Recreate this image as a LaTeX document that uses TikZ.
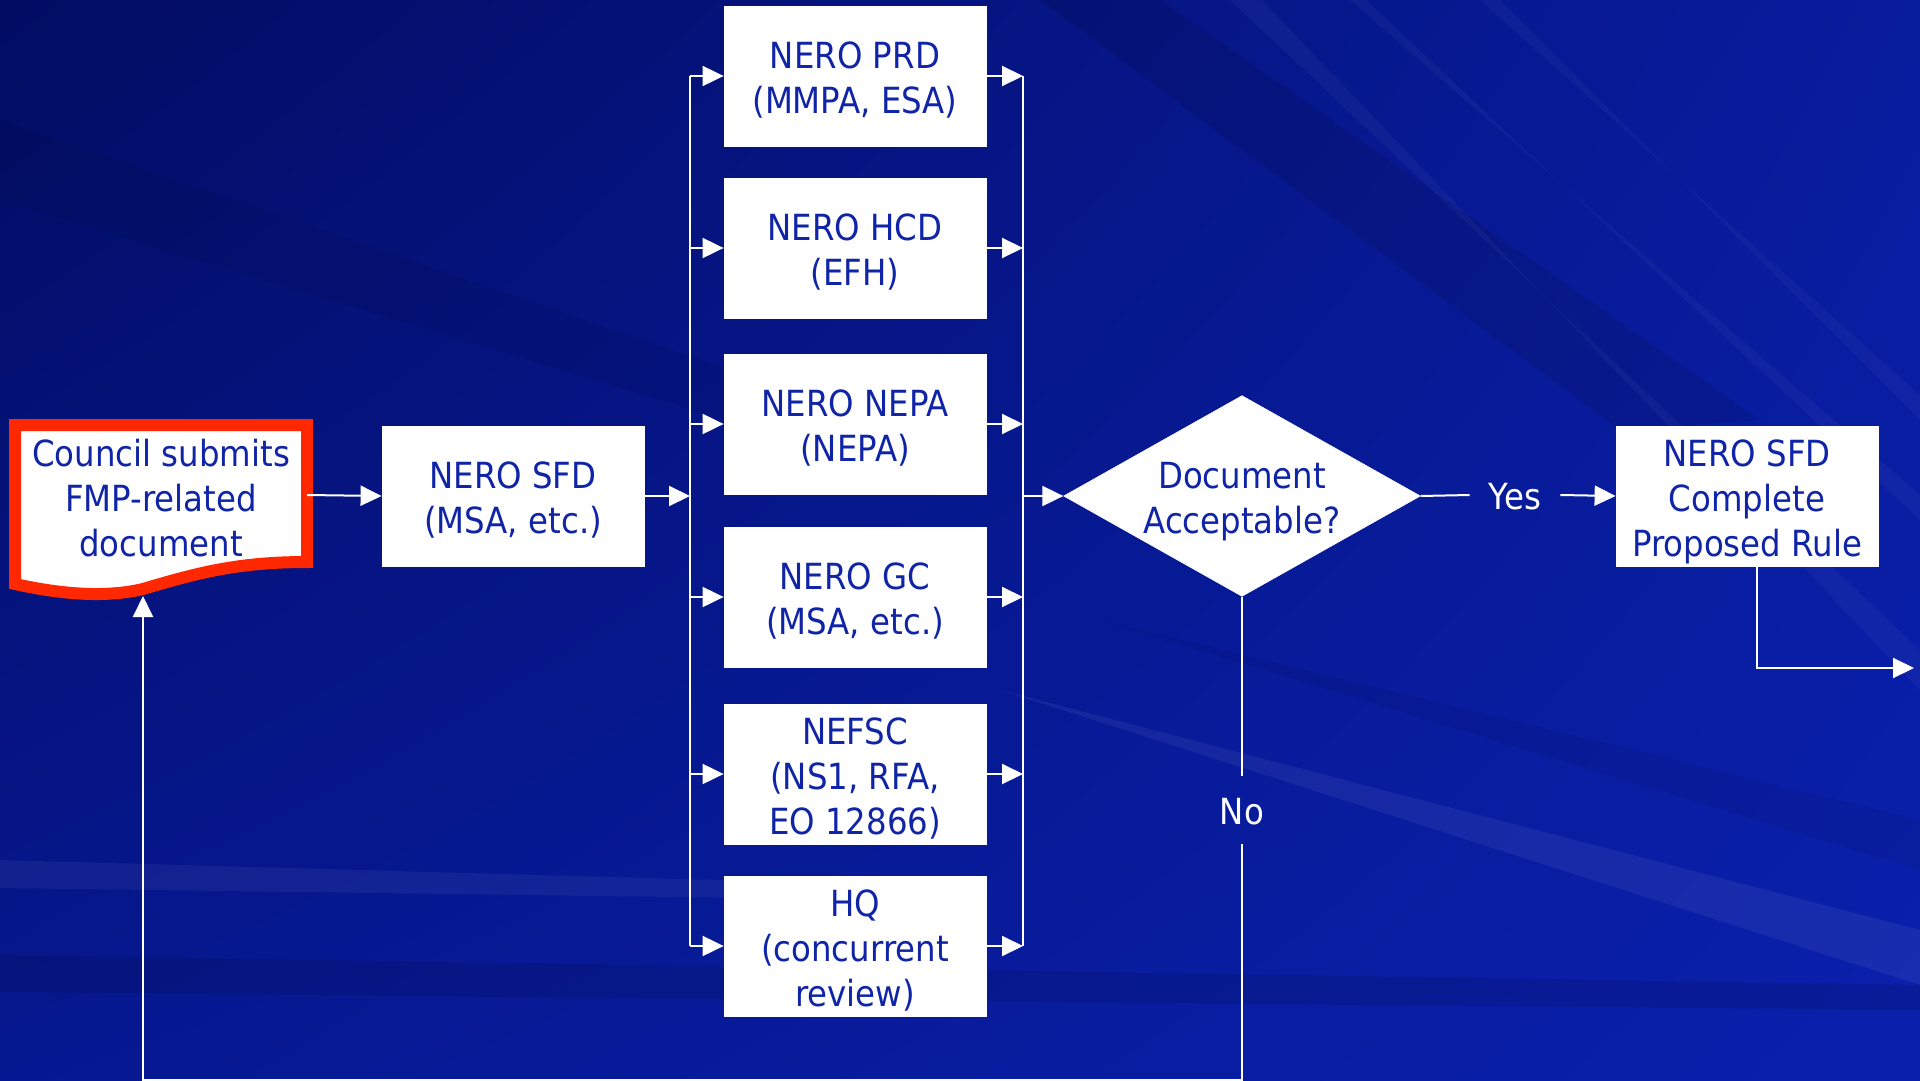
\documentclass[tikz,border=0pt]{standalone}
\usepackage{fontspec}
\setmainfont{DejaVu Sans}[FakeStretch=0.9]
\usetikzlibrary{arrows.meta,shapes.geometric,shadings}
\definecolor{txtblue}{RGB}{16,36,168}
\definecolor{bgUL}{RGB}{2,12,98}
\definecolor{bgUR}{RGB}{8,28,158}
\definecolor{bgLL}{RGB}{6,24,145}
\definecolor{bgLR}{RGB}{10,32,172}
\definecolor{docred}{RGB}{255,40,0}
\newcommand\btxt[1]{\raisebox{-6pt}[\height][\depth]{\begin{tabular}{@{}c@{}}#1\end{tabular}}}
\newcommand\ltxt[1]{\raisebox{-2pt}[\height][\depth]{#1}}
\begin{document}
\begin{tikzpicture}[x=1pt,y=-1pt,
  txt/.style={font=\fontsize{36}{45}\selectfont},
  box/.style={txt, rectangle, fill=white, draw=white, line width=0.8pt,
    minimum width=262pt, minimum height=140pt, inner sep=0pt,
    align=center, text=txtblue},
  conn/.style={white, line width=2pt},
  arr/.style={conn, -{Triangle[length=21pt,width=20pt]}},
  lbl/.style={txt, text=white, inner sep=0pt}]
% background
\useasboundingbox (0,0) rectangle (1920,1081);
\shade[upper left=bgUL, upper right=bgUR, lower left=bgLL, lower right=bgLR]
  (0,0) rectangle (1920,1081);
\fill[black, opacity=0.10] (1040,0) -- (1160,0) -- (1760,420) -- (1620,430) -- cycle;
\fill[white, opacity=0.035] (1230,0) -- (1262,0) -- (1920,690) -- (1920,650) -- cycle;
\fill[white, opacity=0.035] (1350,0) -- (1366,0) -- (1920,520) -- (1920,495) -- cycle;
\fill[white, opacity=0.03] (1480,0) -- (1500,0) -- (1920,420) -- (1920,395) -- cycle;
\fill[black, opacity=0.06] (0,120) -- (0,200) -- (760,430) -- (760,380) -- cycle;
\fill[white, opacity=0.06] (1000,690) -- (1920,930) -- (1920,985) -- cycle;
\fill[black, opacity=0.06] (1100,620) -- (1920,820) -- (1920,870) -- cycle;
\fill[white, opacity=0.05] (0,860) -- (900,885) -- (900,900) -- (0,888) -- cycle;
\fill[black, opacity=0.10] (0,955) -- (1920,985) -- (1920,1010) -- (0,992) -- cycle;

% council document
\draw[docred, line width=12pt, fill=white]
  (15,425) -- (307,425) -- (307,562)
  .. controls (240,562) and (200,572) .. (143,589)
  .. controls (105,598) and (60,594) .. (15,584) -- cycle;
\node[txt, align=center, text=txtblue, inner sep=0pt] (council) at (161,498)
  {Council submits\\FMP-related\\document};
\coordinate (docR) at (307,495);
\coordinate (docin) at (143,596);

% boxes
\node[box] (sfd) at (513,496) {\btxt{NERO SFD\\(MSA, etc.)}};
\node[box] (prd) at (855,76) {\btxt{NERO PRD\\(MMPA, ESA)}};
\node[box] (hcd) at (855,248) {\btxt{NERO HCD\\(EFH)}};
\node[box] (nepa) at (855,424) {\btxt{NERO NEPA\\(NEPA)}};
\node[box] (gc) at (855,597) {\btxt{NERO GC\\(MSA, etc.)}};
\node[box] (nefsc) at (855,774) {\btxt{NEFSC\\(NS1, RFA,\\EO 12866)}};
\node[box] (hq) at (855,946) {\btxt{HQ\\(concurrent\\review)}};
\node[txt, shape=diamond, fill=white, draw=white, aspect=1.777, inner sep=0pt,
  minimum width=350pt, minimum height=197pt, align=center, text=txtblue]
  (dia) at (1242,496) {\btxt{Document\\Acceptable?}};
\node[box] (rbox) at (1747,496) {\btxt{NERO SFD\\Complete\\Proposed Rule}};

% connectors
\coordinate (lbus) at (690,496);
\coordinate (rbus) at (1023,496);
\draw[arr] (docR) -- (sfd.west);
\draw[arr] (sfd.east) -- (lbus);
\draw[conn] (lbus |- prd.west) -- (lbus |- hq.west);
\draw[conn] (rbus |- prd.east) -- (rbus |- hq.east);
\foreach \n in {prd,hcd,nepa,gc,nefsc,hq}{
  \draw[arr] (lbus |- \n.west) -- (\n.west);
  \draw[arr] (\n.east) -- (rbus |- \n.east);
}
\draw[arr] (rbus) -- (dia.west);

\node[lbl, inner xsep=19pt] (yes) at (1515,495) {\ltxt{Yes}};
\draw[conn] (dia.east) -- (yes.west);
\draw[arr] (yes.east) -- (rbox.west);

\coordinate (out) at (1914,668);
\draw[arr] ([xshift=10pt]rbox.south) |- (out);

\node[lbl, inner ysep=20pt] (no) at (1242,810) {\ltxt{No}};
\coordinate (br) at (1242,1080);
\coordinate (bl) at (143,1080);
\draw[conn] (dia.south) -- (no.north);
\draw[arr] (no.south) -- (br) -- (bl) -- (docin);
\end{tikzpicture}
\end{document}
